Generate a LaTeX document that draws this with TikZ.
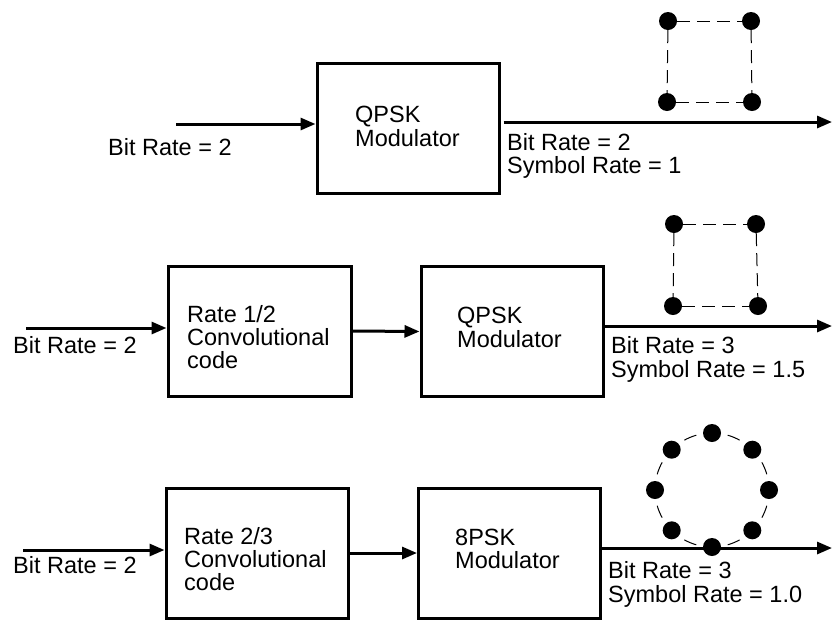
\documentclass[tikz,border=0pt]{standalone}
\usepackage{fontspec}
\setmainfont{Liberation Sans}
\usetikzlibrary{arrows.meta,calc}

\tikzset{
  blockbox/.style={draw, line width=3pt, minimum width=182pt, minimum height=130pt, inner sep=0pt},
  flow/.style={draw, line width=3pt, -{Triangle[length=15pt,width=12pt]}},
  txt/.style={inner sep=0pt, anchor=base west, font=\fontsize{23.5}{23.5}\selectfont},
  dotpt/.style={circle, fill=black, minimum size=18pt, inner sep=0pt},
  grid/.style={draw, line width=1pt, dash pattern=on 13pt off 7pt},
  ring/.style={draw, line width=1pt},
}

\begin{document}
\begin{tikzpicture}[x=1pt,y=-1pt]
\useasboundingbox (0,0) rectangle (833,622);

% ---------- uncoded QPSK ----------
\node[blockbox] (qpskA) at (408,128.5) {};
\node[txt] (qpskAa) at (355,122) {QPSK};
\node[txt] (qpskAb) at (355,146) {Modulator};
\coordinate (inA) at (176,124);
\coordinate (outA) at (832,122);
\draw[flow] (inA) -- (inA -| qpskA.west);
\draw[flow, shorten <=3pt] (outA -| qpskA.east) -- (outA);
\node[txt] (inAlbl) at (108,155) {Bit Rate = 2};
\node[txt] (outAa) at (507,150) {Bit Rate = 2};
\node[txt] (outAb) at (507,173) {Symbol Rate = 1};
% constellation
\node[dotpt] (a1) at (668,21) {};
\node[dotpt] (a2) at (751,21) {};
\node[dotpt] (a3) at (667,102) {};
\node[dotpt] (a4) at (752,102) {};
\draw[grid] (a1) -- (a2);
\draw[grid] (a3) -- (a4);
\draw[grid] (a1) -- (a3);
\draw[grid] (a2) -- (a4);

% ---------- rate 1/2 code + QPSK ----------
\node[blockbox, minimum width=183pt] (convB) at (259.5,331) {};
\node[txt] (convBa) at (187,322) {Rate 1/2};
\node[txt] (convBb) at (187,345) {Convolutional};
\node[txt] (convBc) at (187,368) {code};
\node[blockbox] (qpskB) at (512,331.5) {};
\node[txt] (qpskBa) at (457,323) {QPSK};
\node[txt] (qpskBb) at (457,347) {Modulator};
\coordinate (inB) at (26,328);
\coordinate (outB) at (832,326);
\draw[flow] (inB) -- (inB -| convB.west);
\draw[flow] (convB.east) -- (qpskB.west);
\draw[flow] (outB -| qpskB.east) -- (outB);
\node[txt] (inBlbl) at (13,353) {Bit Rate = 2};
\node[txt] (outBa) at (611,353) {Bit Rate = 3};
\node[txt] (outBb) at (611,377) {Symbol Rate = 1.5};
% constellation
\node[dotpt] (b1) at (674,224) {};
\node[dotpt] (b2) at (756,224) {};
\node[dotpt] (b3) at (673,306) {};
\node[dotpt] (b4) at (758,306) {};
\draw[grid] (b1) -- (b2);
\draw[grid] (b3) -- (b4);
\draw[grid] (b1) -- (b3);
\draw[grid] (b2) -- (b4);

% ---------- rate 2/3 code + 8PSK ----------
\node[blockbox] (convC) at (257,553) {};
\node[txt] (convCa) at (184,544) {Rate 2/3};
\node[txt] (convCb) at (184,567) {Convolutional};
\node[txt] (convCc) at (184,590) {code};
\node[blockbox] (pskC) at (509.5,553) {};
\node[txt] (pskCa) at (455,545) {8PSK};
\node[txt] (pskCb) at (455,568) {Modulator};
\coordinate (inC) at (23,550);
\coordinate (outC) at (832,548);
\draw[flow] (inC) -- (inC -| convC.west);
\draw[flow] (convC.east) -- (pskC.west);
\draw[flow] (outC -| pskC.east) -- (outC);
\node[txt] (inClbl) at (13,573) {Bit Rate = 2};
\node[txt] (outCa) at (608,578) {Bit Rate = 3};
\node[txt] (outCb) at (608,602) {Symbol Rate = 1.0};
% 8PSK constellation on a dashed ring
\coordinate (ctr) at (712,490);
\foreach \k in {0,...,7} {
  \draw[ring] ($(ctr)+({45*\k+16}:57)$) arc[start angle={45*\k+16}, end angle={45*\k+29}, radius=57];
}
\foreach \k in {0,...,7} {
  \node[dotpt] (c\k) at ($(ctr)+({45*\k}:57)$) {};
}
\end{tikzpicture}
\end{document}
